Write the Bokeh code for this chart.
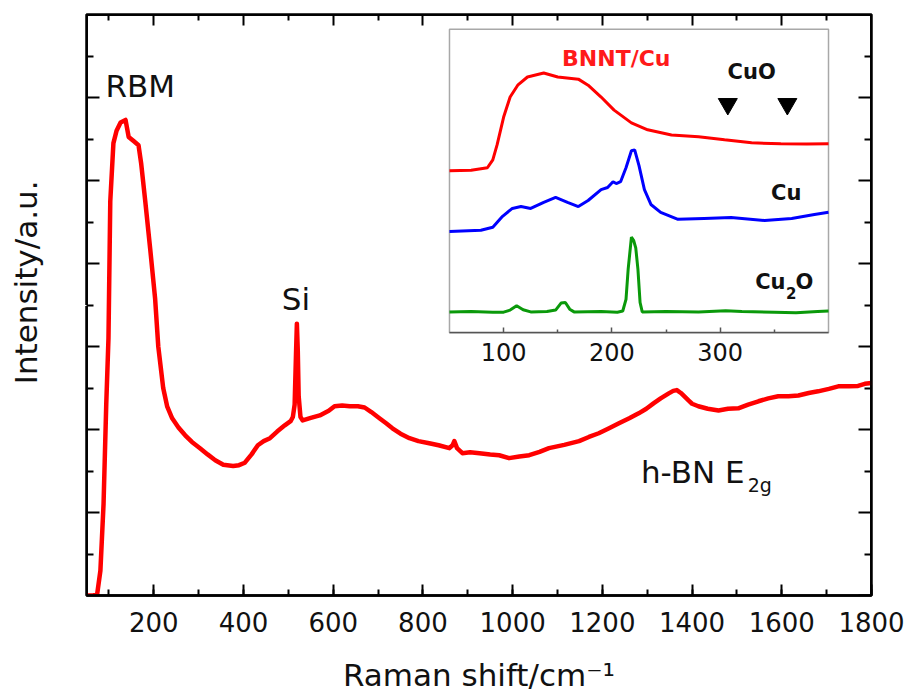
from bokeh.plotting import figure
from bokeh.models import Range1d, LinearAxis, SingleIntervalTicker, FixedTicker, Title
from bokeh.core.properties import value
from bokeh.embed import file_html
from bokeh.resources import INLINE

# ---- main spectrum (Raman shift / cm-1, intensity a.u.) ----
main_shift = [50, 65, 74, 81, 88, 94, 99, 103, 110, 117, 126, 137, 144, 155, 166, 172, 181, 192, 203, 210,
              221, 230, 241, 255, 270, 285, 303, 320, 337, 355, 377, 390, 403, 418, 432, 445, 459, 475, 492, 505,
              510, 514, 517, 519, 521, 523, 527, 532, 550, 570, 590, 603, 620, 637, 655, 670, 685, 703, 718, 732,
              750, 770, 790, 814, 835, 859, 866, 870, 876, 888, 905, 926, 950, 970, 992, 1015, 1037, 1060, 1081, 1115,
              1148, 1170, 1192, 1215, 1237, 1260, 1281, 1298, 1314, 1330, 1348, 1358, 1366, 1375, 1392, 1400, 1414, 1435, 1459, 1480,
              1503, 1525, 1548, 1570, 1592, 1615, 1637, 1660, 1681, 1705, 1726, 1750, 1770, 1785, 1800]
main_int = [0, 0, 0.05, 0.6, 2.2, 4.6, 6.2, 9.5, 10.9, 11.2, 11.4, 11.46, 11.05, 10.95, 10.85, 10.4, 9.5, 8.35, 7.15, 6.0,
            5.0, 4.55, 4.27, 4.05, 3.86, 3.7, 3.55, 3.4, 3.26, 3.15, 3.12, 3.14, 3.2, 3.4, 3.62, 3.72, 3.79, 3.95, 4.1, 4.2,
            4.3, 4.6, 5.8, 6.55, 5.9, 4.8, 4.3, 4.22, 4.28, 4.34, 4.45, 4.56, 4.58, 4.56, 4.56, 4.53, 4.42, 4.27, 4.15, 4.03,
            3.9, 3.79, 3.72, 3.67, 3.62, 3.55, 3.62, 3.72, 3.55, 3.43, 3.45, 3.43, 3.4, 3.38, 3.31, 3.35, 3.38, 3.46, 3.55, 3.63,
            3.72, 3.82, 3.91, 4.03, 4.15, 4.27, 4.39, 4.5, 4.63, 4.75, 4.87, 4.93, 4.95, 4.88, 4.7, 4.62, 4.56, 4.5, 4.46, 4.5,
            4.51, 4.6, 4.68, 4.75, 4.8, 4.8, 4.82, 4.88, 4.92, 4.98, 5.04, 5.04, 5.05, 5.1, 5.12]

# ---- inset spectra ----
bnnt_x = [50, 70, 85, 90, 94, 100, 106, 113, 122, 137, 150, 169, 178, 190, 202, 218, 233, 255, 280, 304, 329, 356, 380, 400]
bnnt_y = [5.34, 5.36, 5.44, 5.7, 6.2, 7.11, 7.77, 8.16, 8.43, 8.56, 8.43, 8.36, 8.16, 7.77, 7.34, 6.92, 6.69, 6.52, 6.46, 6.36, 6.26, 6.23, 6.22, 6.23]

cu_x = [50, 79, 90, 99, 108, 116, 125, 137, 148, 159, 169, 178, 190, 196, 201, 204, 208, 213, 218, 221,
        225, 230, 236, 245, 261, 285, 310, 341, 366, 387, 400]
cu_y = [3.34, 3.38, 3.48, 3.84, 4.1, 4.16, 4.1, 4.3, 4.46, 4.3, 4.16, 4.36, 4.72, 4.79, 4.98, 4.92, 4.98, 5.44, 6.0, 6.03,
        5.51, 4.72, 4.23, 3.97, 3.74, 3.77, 3.8, 3.7, 3.77, 3.9, 3.97]

cu2o_x = [50, 70, 90, 100, 106, 112, 118, 125, 140, 148, 153, 157, 161, 165, 190, 205, 210, 213, 215, 218,
          220, 222, 224, 226, 228, 250, 280, 305, 320, 350, 370, 390, 400]
cu2o_y = [0.69, 0.7, 0.68, 0.68, 0.75, 0.89, 0.76, 0.69, 0.7, 0.75, 0.98, 1.0, 0.78, 0.69, 0.7, 0.68, 0.72, 1.1, 2.1, 3.15,
          3.05, 2.8, 2.1, 1.0, 0.69, 0.7, 0.69, 0.73, 0.7, 0.68, 0.66, 0.7, 0.72]

cuo_marks = [307, 362]
inset_ticks = [100, 200, 300]
inset_minor = [150, 250, 350]

# tick positions of the frame (unlabelled sides)
x_major = [200, 400, 600, 800, 1000, 1200, 1400, 1600, 1800]
x_minor = [100, 300, 500, 700, 900, 1100, 1300, 1500, 1700]
y_major = [0, 2, 4, 6, 8, 10, 12, 14]
y_minor = [1, 3, 5, 7, 9, 11, 13]

FONT = "DejaVu Sans"
INK = "#111111"

p = figure(width=906, height=695, output_backend="svg", toolbar_location=None,
           x_range=Range1d(50, 1800), y_range=Range1d(0, 14), y_axis_location=None,
           min_border_left=86, min_border_right=35, min_border_top=14, min_border_bottom=97)
p.xgrid.visible = False
p.ygrid.visible = False
p.outline_line_color = "black"
p.outline_line_width = 2.5
p.background_fill_color = "white"
p.border_fill_color = "white"

# bottom axis with labels
bx = p.xaxis[0]
bx.ticker = SingleIntervalTicker(interval=200, num_minor_ticks=2)
bx.axis_line_width = 2.5
bx.axis_line_color = "black"
bx.major_tick_in = 11
bx.major_tick_out = 0
bx.minor_tick_in = 6
bx.minor_tick_out = 0
bx.major_tick_line_width = 2
bx.minor_tick_line_width = 2
bx.major_tick_line_color = "black"
bx.minor_tick_line_color = "black"
bx.major_label_text_font = FONT
bx.major_label_text_font_size = "26px"
bx.major_label_text_color = INK
bx.major_label_standoff = 16
bx.axis_label = "Raman shift/cm\u207b\u00b9"
bx.axis_label_text_font = FONT
bx.axis_label_text_font_size = "31px"
bx.axis_label_text_font_style = "normal"
bx.axis_label_text_color = INK
bx.axis_label_standoff = 22

def tick_axis(side, loc, ticks, length):
    ax = LinearAxis(fixed_location=loc, ticker=FixedTicker(ticks=[], minor_ticks=ticks))
    ax.axis_line_color = "black"
    ax.axis_line_width = 2.5
    ax.minor_tick_in = length
    ax.minor_tick_out = 0
    ax.minor_tick_line_width = 2
    ax.minor_tick_line_color = "black"
    p.add_layout(ax, side)

tick_axis("above", 14, x_major, 11)
tick_axis("above", 14, x_minor, 6)
tick_axis("left", 50, y_major, 13)
tick_axis("left", 50, y_minor, 7)
tick_axis("right", 1800, y_major, 13)
tick_axis("right", 1800, y_minor, 7)

# blank spacer between the frame and the y title (one white outward tick)
spacer = LinearAxis(ticker=FixedTicker(ticks=[], minor_ticks=[7]))
spacer.axis_line_color = None
spacer.major_tick_in = 0
spacer.major_tick_out = 43
spacer.minor_tick_in = 0
spacer.minor_tick_out = 43
spacer.minor_tick_line_color = "white"
spacer.major_label_standoff = 0
p.add_layout(spacer, "left")

p.add_layout(Title(text="Intensity/a.u.", align="right", vertical_align="bottom", offset=166, standoff=0,
                   text_font=FONT, text_font_size="31px", text_font_style="normal", text_color=INK), "left")

# main curve
p.line(main_shift, main_int, line_color="#ff0000", line_width=4.5, line_join="round")

# main annotations
p.text(x=[170, 517], y=[12.27, 7.15], text=["RBM", "Si"],
       text_font=value(FONT), text_font_size="31px",
       text_align="center", text_baseline="middle", text_color=INK)
p.text(x=[1517], y=[2.98], text=["h-BN E"], text_font=value(FONT), text_font_size="31px",
       text_align="right", text_baseline="middle", text_color=INK)
p.text(x=[1524], y=[2.66], text=["2g"], text_font=value(FONT), text_font_size="19px",
       text_align="left", text_baseline="middle", text_color=INK)

# ---- inset ----
p.extra_x_ranges = {"ix": Range1d(-285.2, 439.7)}
p.extra_y_ranges = {"iy": Range1d(-8.656, 10.49)}

p.quad(left=[50], right=[400], bottom=[0], top=[10], x_range_name="ix", y_range_name="iy",
       fill_color="white", line_color="#a8a8a8", line_width=1.5)

inset_ax = LinearAxis(x_range_name="ix", y_range_name="iy", fixed_location=0, bounds=(50, 400),
                      ticker=FixedTicker(ticks=inset_ticks, minor_ticks=inset_minor))
inset_ax.axis_line_color = "#555555"
inset_ax.axis_line_width = 1.5
inset_ax.major_tick_in = 5
inset_ax.major_tick_out = 0
inset_ax.minor_tick_in = 3
inset_ax.minor_tick_out = 0
inset_ax.major_tick_line_color = "#555555"
inset_ax.minor_tick_line_color = "#555555"
inset_ax.major_tick_line_width = 1.5
inset_ax.minor_tick_line_width = 1.5
inset_ax.major_label_text_font = FONT
inset_ax.major_label_text_font_size = "24px"
inset_ax.major_label_text_color = INK
inset_ax.major_label_standoff = 10
p.add_layout(inset_ax, "below")

p.line(bnnt_x, bnnt_y, x_range_name="ix", y_range_name="iy", line_color="#ff0000", line_width=3)
p.line(cu_x, cu_y, x_range_name="ix", y_range_name="iy", line_color="#0000ff", line_width=3)
p.line(cu2o_x, cu2o_y, x_range_name="ix", y_range_name="iy", line_color="#0a990a", line_width=3)

p.scatter(x=cuo_marks, y=[7.54] * len(cuo_marks), x_range_name="ix", y_range_name="iy",
          marker="inverted_triangle", size=19, fill_color="black", line_color="black")

p.text(x=[204], y=[9.03], text=["BNNT/Cu"], x_range_name="ix", y_range_name="iy",
       text_font=value(FONT), text_font_style="bold", text_font_size="22px",
       text_align="center", text_baseline="middle", text_color="#ff1a1a")
p.text(x=[329, 361], y=[8.61, 4.62], text=["CuO", "Cu"],
       x_range_name="ix", y_range_name="iy",
       text_font=value(FONT), text_font_style="bold", text_font_size="21px",
       text_align="center", text_baseline="middle", text_color=INK)
# Cu2O with a real subscript
p.text(x=[360.3], y=[1.66], text=["Cu"], x_range_name="ix", y_range_name="iy",
       text_font=value(FONT), text_font_style="bold", text_font_size="21px",
       text_align="right", text_baseline="middle", text_color=INK)
p.text(x=[360.8], y=[1.31], text=["2"], x_range_name="ix", y_range_name="iy",
       text_font=value(FONT), text_font_style="bold", text_font_size="15px",
       text_align="left", text_baseline="middle", text_color=INK)
p.text(x=[369.5], y=[1.66], text=["O"], x_range_name="ix", y_range_name="iy",
       text_font=value(FONT), text_font_style="bold", text_font_size="21px",
       text_align="left", text_baseline="middle", text_color=INK)

open("out.html", "w").write(file_html(p, INLINE))
